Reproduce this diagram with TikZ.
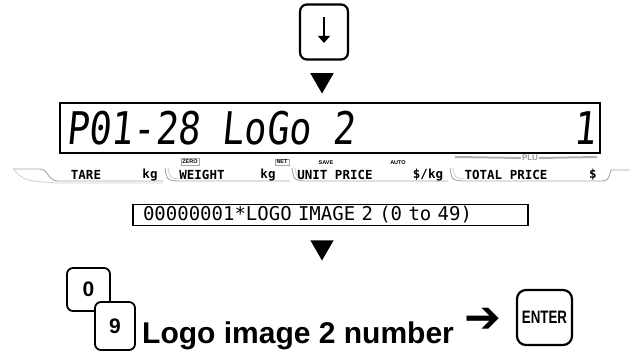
\documentclass[tikz,border=0pt]{standalone}
\usepackage{fontspec}
\usepackage{graphicx}
\setmainfont{Liberation Sans}
\newfontfamily\lcdfont[FakeSlant=0.12]{DejaVu Sans Mono}
\newfontfamily\gothfont{DejaVu Sans Mono}
\newfontfamily\symfont{DejaVu Sans}
\usetikzlibrary{arrows.meta,positioning,shapes.geometric}

\begin{document}
\begin{tikzpicture}[
    x=1pt, y=-1pt,
    keybox/.style={rectangle, draw, line width=2.2pt, rounded corners=7pt, fill=white, inner sep=0pt},
    lcd/.style={rectangle, draw, line width=1.6pt, inner sep=0pt, minimum width=540pt, minimum height=50pt},
    tri/.style={regular polygon, regular polygon sides=3, shape border rotate=180, fill=black, inner sep=0pt, minimum size=27pt},
    lab/.style={font=\gothfont\bfseries\fontsize{12.5}{12.5}\selectfont, inner sep=0pt},
    smalllab/.style={font=\bfseries\fontsize{5.5}{5.5}\selectfont, inner sep=1.3pt},
    strip/.style={draw=gray!70, line width=0.9pt},
    shade/.style={draw=gray!35, line width=0.9pt}
  ]
    \useasboundingbox (0,0) rectangle (630,353);

    % key and display
    \node[keybox, minimum width=48pt, minimum height=55pt] (down) at (324,32) {};
    \draw[line width=1.2pt, -{Triangle[length=7pt,width=12pt]}] ([yshift=15pt]down.center) -- ([yshift=-11pt]down.center);
    \node[tri] (tri1) at (322,80) {};

    \node[font=\bfseries\fontsize{8}{8}\selectfont, text=gray!80, inner sep=1pt] (plu) at (530,158) {PLU};
    \draw[gray!60, line width=2pt] (455,157) -- (plu.west);
    \draw[gray!60, line width=2pt] (plu.east) -- (597,157);

    \node[lcd] (lcd) at (330,128) {};
    \node[anchor=west, font=\lcdfont\fontsize{45}{45}\selectfont, inner sep=0pt] (lcdtxt) at (66,128) {\scalebox{0.82}[1]{P01-28 LoGo 2}};
    \node[anchor=east, font=\lcdfont\fontsize{45}{45}\selectfont, inner sep=0pt] (lcdqty) at (596,128) {\scalebox{0.82}[1]{1}};

    % label strip
    \draw[strip] (13,169) -- (40,169) .. controls (48,169) and (48,181) .. (58,181) -- (163,181);
    \draw[shade] (13,169) .. controls (25,181) .. (58,183) -- (163,183);
    \foreach \xa/\xb in {165/290, 292/448, 450/598} {
      \draw[strip] (\xa,168) .. controls (\xa+2,180) .. (\xa+12,181) -- (\xb,181);
      \draw[shade] (\xa+3,168) .. controls (\xa+5,178) .. (\xa+14,179);
    }
    \draw[strip] (598,181) .. controls (608,181) .. (611,170) -- (630,170);

    \node[lab] (tare) at (86,175) {TARE};
    \node[lab] (kg1) at (150,175) {kg};
    \node[lab] (weight) at (202,175) {WEIGHT};
    \node[lab] (kg2) at (268,175) {kg};
    \node[lab] (unit) at (335,175) {UNIT PRICE};
    \node[lab] (perkg) at (428,175) {\$/kg};
    \node[lab] (total) at (506,175) {TOTAL PRICE};
    \node[lab] (dollar) at (593,175) {\$};
    \node[smalllab, draw=gray!70, line width=0.6pt] (zero) at (190,162) {ZERO};
    \node[smalllab, draw=gray!70, line width=0.6pt] (net) at (282,162) {NET};
    \node[smalllab] (save) at (326,163) {SAVE};
    \node[smalllab] (auto) at (398,163) {AUTO};

    % message line
    \node[draw, line width=1.3pt, text width=375pt, align=left, inner xsep=10pt, inner ysep=0pt, minimum height=21pt,
          font=\gothfont\fontsize{19}{19}\selectfont] (msg) at (330.5,215) {00000001*LOGO IMAGE 2 (0 to 49)};
    \node[tri] (tri2) at (322,247) {};

    % numeric keys and enter
    \node[keybox, line width=1.8pt, rounded corners=6pt, minimum width=43pt, minimum height=43pt,
          font=\bfseries\fontsize{21}{21}\selectfont] (k0) at (88.5,289.5) {0};
    \node[keybox, line width=1.8pt, rounded corners=6pt, minimum width=40pt, minimum height=48pt,
          font=\bfseries\fontsize{21}{21}\selectfont] (k9) at (115,326) {9};
    \node[anchor=base west, font=\bfseries\fontsize{30}{30}\selectfont, inner sep=0pt] (desc) at (142,343) {Logo image 2 number};
    \node[font=\symfont\fontsize{44}{44}\selectfont, inner sep=0pt] (arr) at (483,320) {➔};
    \node[keybox, minimum width=55pt, minimum height=55pt, rounded corners=9pt,
          font=\bfseries\fontsize{18}{18}\selectfont] (enter) at (544.5,317.5) {\scalebox{0.74}[1]{ENTER}};
  \end{tikzpicture}
\end{document}
